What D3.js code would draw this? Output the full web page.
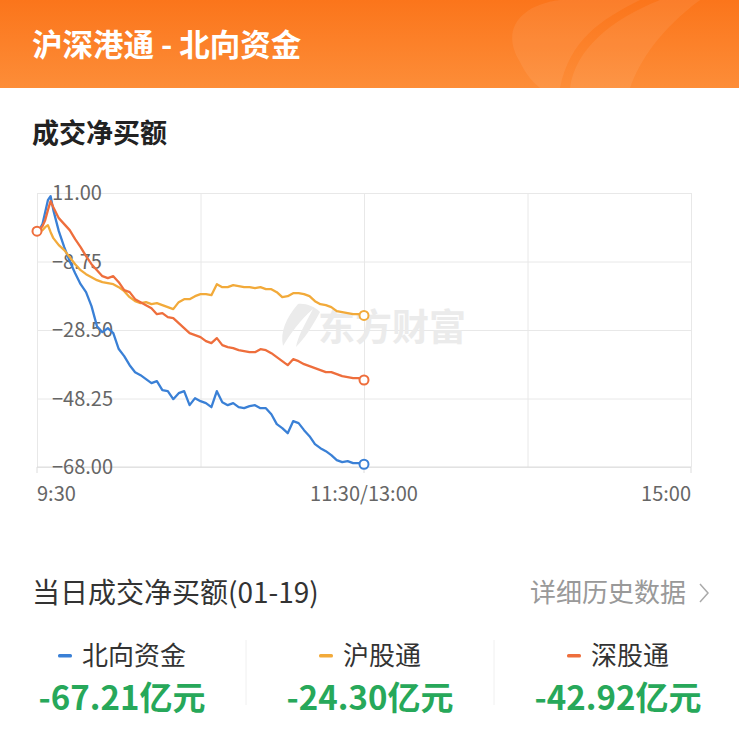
<!DOCTYPE html>
<html>
<head>
<meta charset="utf-8">
<script src="https://cdn.jsdelivr.net/npm/d3@7/dist/d3.min.js"></script>
<style>
  html, body { margin: 0; padding: 0; background: #fff; }
  svg { display: block; }
  text { font-family: "Noto Sans CJK SC", "Noto Sans", sans-serif; }
</style>
</head>
<body>
<svg id="chart" width="739" height="730"></svg>
<script>
// Trading times (morning session) for the sampled points
const times = ["09:30","09:31","09:32","09:33","09:34","09:35","09:36","09:38","09:40","09:42","09:44","09:46","09:48","09:50","09:52","09:54","09:56","09:58","10:00","10:02","10:04","10:06","10:08","10:10","10:12","10:14","10:16","10:18","10:20","10:22","10:24","10:26","10:28","10:30","10:32","10:34","10:36","10:38","10:40","10:42","10:44","10:46","10:48","10:50","10:52","10:54","10:56","10:58","11:00","11:02","11:04","11:06","11:08","11:10","11:12","11:14","11:16","11:18","11:20","11:22","11:24","11:26","11:28","11:30"];

// 北向资金 net buy (亿元)
const northValues = [0,0.58,2.02,5.48,8.94,10.09,6.06,0,-4.61,-8.65,-12.11,-15.28,-17.59,-21.63,-27.39,-29.12,-27.97,-29.41,-34.0,-36.04,-38.64,-40.66,-41.52,-42.68,-43.83,-43.25,-45.85,-46.14,-48.44,-46.71,-46.14,-50.17,-48.15,-49.02,-49.60,-50.75,-46.14,-49.31,-50.17,-49.60,-50.75,-51.04,-50.46,-50.17,-51.04,-51.04,-52.77,-55.65,-56.81,-58.25,-54.79,-55.36,-57.38,-59.11,-61.42,-62.57,-63.44,-64.59,-66.03,-66.61,-66.32,-66.90,-66.90,-67.21];

// 沪股通 net buy (亿元)
const shValues = [0,-0.29,0.29,1.15,1.73,-0.29,-2.02,-4.04,-5.48,-7.50,-9.52,-11.25,-12.40,-13.26,-14.13,-14.71,-14.99,-15.28,-16.15,-17.30,-19.03,-20.18,-20.76,-20.47,-21.05,-20.76,-21.34,-21.91,-22.49,-20.47,-19.61,-19.61,-18.74,-18.17,-18.17,-18.45,-15.28,-16.15,-16.15,-15.57,-15.86,-16.15,-16.15,-16.44,-16.15,-16.72,-16.72,-17.59,-19.03,-18.74,-17.88,-17.88,-18.17,-18.74,-20.18,-21.05,-21.34,-21.91,-23.07,-23.36,-23.64,-23.93,-23.93,-24.30];

// 深股通 net buy (亿元)
const szValues = [0,0.58,1.44,3.17,6.06,8.65,6.92,3.75,2.02,0.29,-2.31,-4.61,-7.21,-9.52,-11.25,-12.98,-13.55,-12.98,-14.71,-17.01,-17.59,-19.61,-20.47,-21.34,-22.20,-23.93,-23.64,-24.80,-25.09,-26.53,-27.97,-29.41,-29.99,-30.57,-31.72,-32.30,-30.85,-32.87,-33.45,-33.74,-34.31,-34.60,-34.89,-34.89,-34.03,-34.31,-35.18,-36.33,-37.49,-38.64,-36.91,-37.49,-38.35,-38.93,-39.50,-40.08,-40.66,-40.66,-41.24,-41.81,-42.10,-42.39,-42.39,-42.92];

const yTicks = [11.00, -8.75, -28.50, -48.25, -68.00];
const xTickMinutes = [0, 120, 240];
const xTickLabels = ["9:30", "11:30/13:00", "15:00"];
const xGridMinutes = [0, 60, 120, 180, 240];

const seriesNames = ["北向资金", "沪股通", "深股通"];
const seriesTotals = ["-67.21亿元", "-24.30亿元", "-42.92亿元"];
const seriesColors = ["#3a80d6", "#f2aa3a", "#ee6e3c"];

// Convert "HH:MM" into trading minutes since 09:30 (lunch break removed)
function tradingMinute(t) {
  const [h, m] = t.split(":").map(Number);
  const abs = h * 60 + m;
  const open = 9 * 60 + 30;
  if (abs <= 11 * 60 + 30) return abs - open;
  return 120 + (abs - 13 * 60);
}

const svg = d3.select("#chart");

// ---------- header banner ----------
const defs = svg.append("defs");
const grad = defs.append("linearGradient").attr("id", "hdr").attr("x1", "0").attr("y1", "0").attr("x2", "0").attr("y2", "1");
grad.append("stop").attr("offset", "0%").attr("stop-color", "#fb751b");
grad.append("stop").attr("offset", "100%").attr("stop-color", "#fd8d38");
svg.append("rect").attr("x", 0).attr("y", 0).attr("width", 739).attr("height", 88).attr("fill", "url(#hdr)");
// soft decorative petals on the right of the banner
svg.append("path")
  .attr("d", "M520,62 C500,30 520,5 560,0 L640,0 C600,20 570,40 560,88 L540,88 C530,80 525,72 520,62 Z")
  .attr("fill", "#fff").attr("opacity", 0.07);
svg.append("path")
  .attr("d", "M570,88 C575,50 610,20 660,0 L700,0 C660,30 640,60 630,88 Z")
  .attr("fill", "#fff").attr("opacity", 0.07);
svg.append("text").attr("x", 32).attr("y", 56)
  .attr("fill", "#fff").attr("font-size", 30.5).attr("font-weight", 700)
  .text("沪深港通 - 北向资金");

// ---------- section title ----------
svg.append("text").attr("x", 32).attr("y", 143)
  .attr("fill", "#222").attr("font-size", 27).attr("font-weight", 700)
  .text("成交净买额");

// ---------- chart ----------
const x = d3.scaleLinear().domain([0, 240]).range([37, 691]);
const y = d3.scaleLinear().domain([-68, 11]).range([467, 193]);

const grid = svg.append("g");
// vertical grid lines via a bottom axis with full-height ticks
const gx = grid.append("g").attr("transform", `translate(0,467)`)
  .call(d3.axisBottom(x).tickValues(xGridMinutes).tickSize(-274).tickFormat(""));
gx.select(".domain").remove();
gx.selectAll("line").attr("stroke", "#e8e8e8");
// horizontal grid lines
const gy = grid.append("g").attr("transform", `translate(37,0)`)
  .call(d3.axisLeft(y).tickValues(yTicks).tickSize(-654).tickFormat(""));
gy.select(".domain").remove();
gy.selectAll("line").attr("stroke", "#e8e8e8");
// bottom frame line plus short ticks below it
svg.append("line").attr("x1", 37).attr("x2", 691).attr("y1", 467).attr("y2", 467).attr("stroke", "#dcdcdc");
svg.append("g").selectAll("line").data(xTickMinutes).join("line")
  .attr("x1", d => x(d)).attr("x2", d => x(d)).attr("y1", 467).attr("y2", 473).attr("stroke", "#dcdcdc");

// watermark
const wm = svg.append("g");
wm.append("path")
  .attr("d", "M298,304 C286,318 280,332 283,346 C290,334 300,320 313,309 C305,324 298,336 296,347 C305,338 312,327 320,312 C314,306 305,303 298,304 Z")
  .attr("fill", "#ebebeb");
wm.append("text").attr("x", 318).attr("y", 341)
  .attr("fill", "#ebebeb").attr("font-size", 37).attr("font-weight", 700)
  .text("东方财富");

// y tick labels inside the plot
svg.append("g").selectAll("text").data(yTicks).join("text")
  .attr("x", 52).attr("y", d => y(d)).attr("dy", "0.36em")
  .attr("fill", "#666").attr("font-size", 20)
  .attr("font-family", "Roboto, 'Noto Sans', sans-serif")
  .text(d => d3.format(".2f")(d));

// x tick labels
svg.append("g").selectAll("text").data(xTickMinutes).join("text")
  .attr("x", d => x(d)).attr("y", 501)
  .attr("text-anchor", (d, i) => i === 0 ? "start" : (i === 1 ? "middle" : "end"))
  .attr("fill", "#666").attr("font-size", 20)
  .attr("font-family", "Roboto, 'Noto Sans', sans-serif")
  .text((d, i) => xTickLabels[i]);

// series lines
const seriesData = [northValues, shValues, szValues];
const line = d3.line()
  .x((d, i) => x(tradingMinute(times[i])))
  .y(d => y(d));

seriesData.forEach((vals, k) => {
  svg.append("path").datum(vals)
    .attr("d", line)
    .attr("fill", "none")
    .attr("stroke", seriesColors[k])
    .attr("stroke-width", 2.3)
    .attr("stroke-linejoin", "round");
});

// end-point markers and start marker
seriesData.forEach((vals, k) => {
  const last = vals.length - 1;
  svg.append("circle")
    .attr("cx", x(tradingMinute(times[last]))).attr("cy", y(vals[last])).attr("r", 4.5)
    .attr("fill", "#fff").attr("stroke", seriesColors[k]).attr("stroke-width", 2);
});
svg.append("circle")
  .attr("cx", x(tradingMinute(times[0]))).attr("cy", y(szValues[0])).attr("r", 4.5)
  .attr("fill", "#fff").attr("stroke", seriesColors[2]).attr("stroke-width", 2);

// ---------- summary ----------
svg.append("text").attr("x", 32).attr("y", 603)
  .attr("fill", "#333").attr("font-size", 28)
  .text("当日成交净买额(01-19)");
svg.append("text").attr("x", 686).attr("y", 602).attr("text-anchor", "end")
  .attr("fill", "#999").attr("font-size", 26)
  .text("详细历史数据");
svg.append("path").attr("d", "M700,584 L708,593 L700,602")
  .attr("fill", "none").attr("stroke", "#aaa").attr("stroke-width", 1.5);

const colCenters = [122, 370, 618];
// column separators
svg.append("g").selectAll("line").data([246, 494]).join("line")
  .attr("x1", d => d).attr("x2", d => d).attr("y1", 640).attr("y2", 705)
  .attr("stroke", "#f0f0f0");

const legend = svg.append("g").selectAll("g").data(seriesNames).join("g")
  .attr("transform", (d, i) => `translate(${colCenters[i]},0)`);
legend.each(function(d, i) {
  const g = d3.select(this);
  const t = g.append("text").attr("y", 665).attr("fill", "#333").attr("font-size", 26).text(d);
  const w = t.node().getComputedTextLength();
  const total = w + 24;
  const left = -total / 2;
  g.append("rect").attr("x", left).attr("y", 654).attr("width", 14).attr("height", 3.5).attr("rx", 1.5)
    .attr("fill", seriesColors[i]);
  t.attr("x", left + 24);
  g.append("text").attr("x", 0).attr("y", 710).attr("text-anchor", "middle")
    .attr("fill", "#27a85a").attr("font-size", 33).attr("font-weight", 700)
    .text(seriesTotals[i]);
});
</script>
</body>
</html>
